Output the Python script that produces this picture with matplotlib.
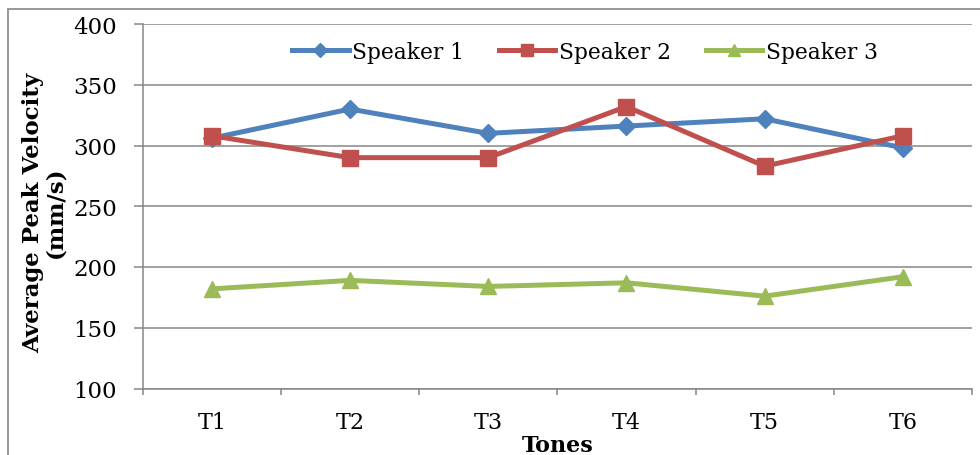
import matplotlib
matplotlib.use('Agg')
import matplotlib.pyplot as plt
from matplotlib.patches import Rectangle
from matplotlib.ticker import FixedLocator

tones = ['T1', 'T2', 'T3', 'T4', 'T5', 'T6']
speaker1 = [306, 330, 310, 316, 322, 298]
speaker2 = [308, 290, 290, 332, 283, 308]
speaker3 = [182, 189, 184, 187, 176, 192]
y_ticks = [100, 150, 200, 250, 300, 350, 400]

grey = '#868686'
plt.rcParams['font.family'] = 'DejaVu Serif'

fig = plt.figure(figsize=(9.8, 4.56), dpi=100, facecolor='white')
# chart frame, runs off the right and bottom edge
fig.patches.append(Rectangle((8 / 980, -0.1), 1.1, 1 - 10 / 456 + 0.1,
                             transform=fig.transFigure, fill=False,
                             edgecolor=grey, linewidth=1.2, zorder=0))

ax = fig.add_axes([142.7 / 980, 1 - 389.5 / 456, 829.3 / 980, 364.5 / 456])
x = list(range(len(tones)))
ax.plot(x, speaker1, color='#4F81BD', lw=3.6, marker='D', ms=9, label='Speaker 1', zorder=3)
ax.plot(x, speaker2, color='#C0504D', lw=3.6, marker='s', ms=11, label='Speaker 2', zorder=3)
ax.plot(x, speaker3, color='#9BBB59', lw=3.6, marker='^', ms=11, label='Speaker 3', zorder=3)

ax.set_xlim(-0.5, len(tones) - 0.5)
ax.set_ylim(100, 400)
ax.set_yticks(y_ticks)
ax.yaxis.grid(True, color=grey, lw=1.1)
ax.set_axisbelow(True)
ax.set_xticks(x)
ax.set_xticklabels(tones)
ax.xaxis.set_minor_locator(FixedLocator([i - 0.5 for i in range(len(tones) + 1)]))
ax.tick_params(axis='x', which='major', length=0, pad=16, labelsize=16)
ax.tick_params(axis='x', which='minor', length=4.5, width=1.1, color=grey)
ax.tick_params(axis='y', length=6.5, width=1.1, color=grey, pad=12, labelsize=16.5)

for s in ['top', 'right']:
    ax.spines[s].set_visible(False)
for s in ['left', 'bottom']:
    ax.spines[s].set_color(grey)
    ax.spines[s].set_linewidth(1.1)

ax.set_ylabel('Average Peak Velocity\n(mm/s)', fontsize=16.5, fontweight='bold',
              linespacing=1.0, labelpad=6)
ax.yaxis.set_label_coords(-0.092, 0.485)
ax.set_xlabel('Tones', fontsize=16, fontweight='bold', labelpad=1)

ax.legend(loc='center', bbox_to_anchor=(0.533, 0.923), ncol=3, frameon=False,
          fontsize=15.7, handlelength=2.6, handletextpad=0.15, columnspacing=1.6,
          markerscale=0.8)

fig.savefig('out.png', dpi=100, facecolor='white')
